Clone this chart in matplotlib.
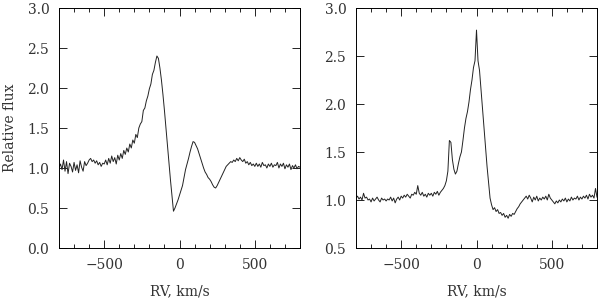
import numpy as np
import matplotlib
matplotlib.use("Agg")
from matplotlib import pyplot as plt
from matplotlib.ticker import MultipleLocator, FormatStrFormatter

# radial velocity grid (km/s), 10 km/s per sample
rv = np.arange(-800, 801, 10)

# left panel: P Cyg-like profile
flux_left = [
    1.00, 1.05, 0.98, 1.10, 0.96, 1.08, 0.93, 1.06, 1.02, 0.95, 1.07,
    0.97, 1.04, 0.94, 1.09, 1.01, 0.96, 1.08, 1.03, 1.06, 1.10,
    1.12, 1.08, 1.10, 1.06, 1.09, 1.04, 1.07, 1.02, 1.06, 1.05,
    1.10, 1.04, 1.12, 1.06, 1.15, 1.08, 1.13, 1.05, 1.16, 1.10,
    1.18, 1.12, 1.22, 1.17, 1.25, 1.20, 1.30, 1.25, 1.35, 1.31,
    1.42, 1.38, 1.50, 1.55, 1.58, 1.72, 1.75, 1.84, 1.90, 1.99,
    2.05, 2.17, 2.22, 2.32, 2.40,
    2.37, 2.25, 2.10, 1.92, 1.72,
    1.50, 1.28, 1.05, 0.85, 0.65,
    0.46, 0.50, 0.55, 0.60, 0.66,
    0.72, 0.78, 0.88, 0.98, 1.05,
    1.12, 1.20, 1.27, 1.33, 1.32,
    1.28, 1.24, 1.18, 1.12, 1.06,
    1.00, 0.95, 0.92, 0.88, 0.86,
    0.83, 0.79, 0.76, 0.75, 0.78,
    0.82, 0.86, 0.90, 0.94, 0.98,
    1.02, 1.04, 1.06, 1.08, 1.07,
    1.10, 1.08, 1.12, 1.09, 1.13,
    1.10, 1.08, 1.11, 1.06, 1.08,
    1.04, 1.07, 1.03, 1.05, 1.02,
    1.06, 1.02, 1.05, 1.01, 1.07, 1.03, 1.04, 1.00, 1.05, 1.02,
    1.06, 1.01, 1.04, 1.03, 1.07, 1.00, 1.05, 1.02, 1.06, 0.99,
    1.04, 1.01, 1.05, 0.98, 1.03, 1.00, 1.04, 0.99, 1.02, 1.01,
]

# right panel: emission line with blue satellite peak
flux_right = [
    1.02, 1.04, 1.01, 1.03, 1.00, 1.07, 1.02, 1.03, 1.00, 1.01, 0.98,
    1.02, 0.99, 1.01, 1.03, 1.00, 0.98, 1.02, 1.00, 1.01, 0.99,
    1.01, 1.00, 1.03, 0.99, 1.02, 0.97, 1.01, 1.03, 1.00, 1.04,
    1.02, 1.05, 1.03, 1.06, 1.04, 1.02, 1.06, 1.05, 1.08, 1.06,
    1.15, 1.07, 1.05, 1.08, 1.04, 1.06, 1.03, 1.07, 1.05, 1.07,
    1.04, 1.08, 1.06, 1.09, 1.05, 1.08, 1.10, 1.12, 1.15, 1.20,
    1.30, 1.62, 1.60, 1.42, 1.32,
    1.27, 1.30, 1.38, 1.45, 1.50,
    1.62, 1.75, 1.85, 1.92, 2.02,
    2.15, 2.25, 2.38, 2.45, 2.77,
    2.45, 2.35, 2.15, 1.95, 1.75,
    1.55, 1.35, 1.18, 1.02, 0.95,
    0.90, 0.92, 0.88, 0.90, 0.86,
    0.87, 0.84, 0.86, 0.82, 0.84,
    0.81, 0.85, 0.83, 0.86, 0.85,
    0.88, 0.91, 0.93, 0.96, 0.98,
    1.00, 1.02, 1.04, 1.01, 1.05,
    1.02, 0.98, 1.03, 1.00, 1.04,
    0.99, 1.02, 1.00, 1.03, 1.01,
    1.04, 1.00, 1.06, 1.02, 1.00,
    0.98, 0.96, 0.99, 0.97, 1.00, 0.98, 1.01, 0.99, 1.02, 0.98,
    1.01, 0.99, 1.03, 1.00, 1.02, 1.01, 1.04, 1.00, 1.03, 1.01,
    1.04, 1.02, 1.05, 1.01, 1.06, 1.03, 1.05, 1.02, 1.12, 1.03,
]

plt.rcParams['font.family'] = ['DejaVu Serif']
plt.rcParams['font.size'] = 10

fig = plt.figure(figsize=(6.0, 2.99), dpi=100)
ax1 = fig.add_axes([59 / 600, 51 / 299, 241 / 600, 240 / 299])
ax2 = fig.add_axes([356 / 600, 51 / 299, 241 / 600, 240 / 299])


def style_axis(ax, ylim):
    """ PGPLOT-like box: ticks inside on all four sides """
    ax.set_xlim(-800, 800)
    ax.set_ylim(*ylim)
    ax.xaxis.set_major_locator(MultipleLocator(500))
    ax.xaxis.set_minor_locator(MultipleLocator(100))
    ax.yaxis.set_major_locator(MultipleLocator(0.5))
    ax.yaxis.set_major_formatter(FormatStrFormatter('%.1f'))
    ax.tick_params(which='both', direction='in', top=True, right=True,
                   colors='black', labelcolor='#333333', width=0.6)
    ax.tick_params(which='major', length=6, pad=7)
    ax.tick_params(which='minor', length=3)
    for s in ax.spines.values():
        s.set_linewidth(0.7)
    ax.set_xlabel('RV, km/s', color='#333333', va='center')
    ax.xaxis.set_label_coords(0.5, -0.179)


ax1.plot(rv, flux_left, color='#222222', lw=0.7)
style_axis(ax1, (0.0, 3.0))
ax1.set_ylabel('Relative flux', color='#333333', va='center')
ax1.yaxis.set_label_coords(-0.205, 0.5)

ax2.plot(rv, flux_right, color='#222222', lw=0.7)
style_axis(ax2, (0.5, 3.0))

fig.savefig('out.png', dpi=100)
